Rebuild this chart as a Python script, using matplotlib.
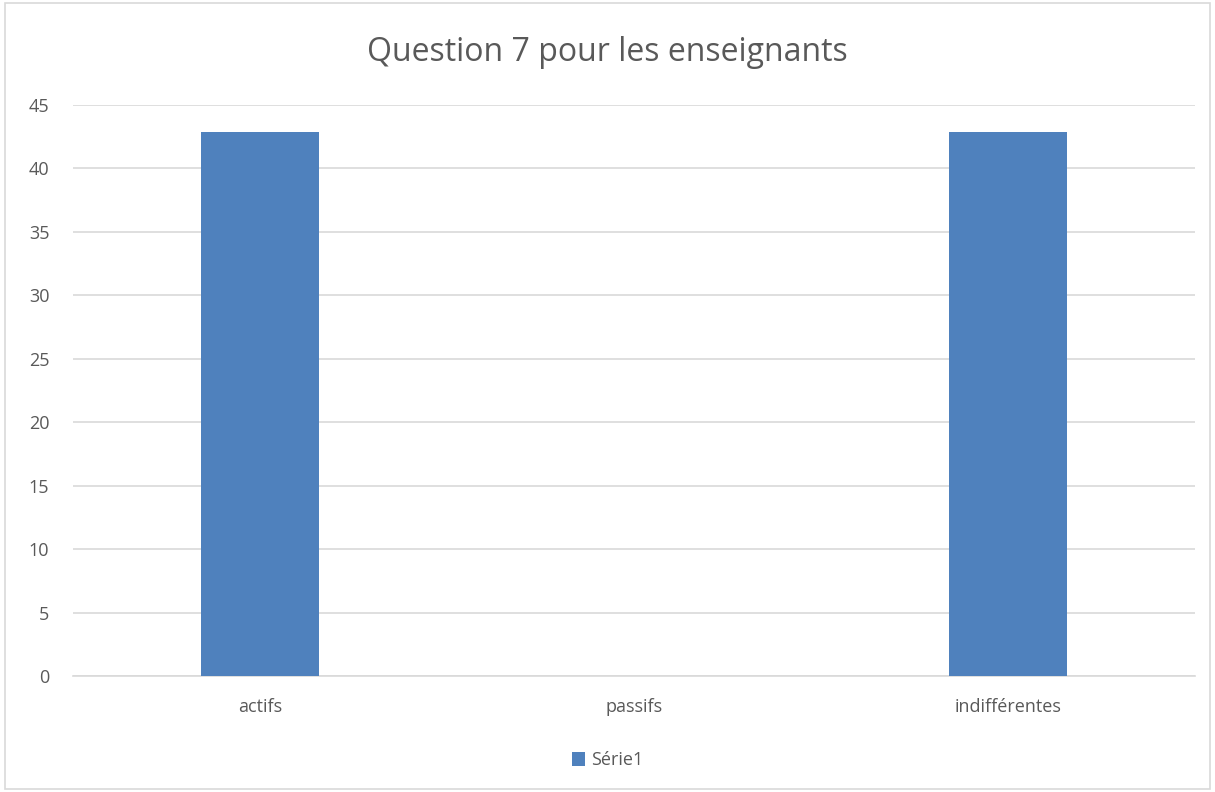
import numpy as np
import matplotlib.pyplot as plt
from matplotlib.patches import Rectangle

categories = ["actifs", "passifs", "indifférentes"]
values = [42.86, 0, 42.86]
series_name = "Série1"
title = "Question 7 pour les enseignants"

plt.rcParams["font.family"] = ["Open Sans", "DejaVu Sans"]
text_color = "#595959"
bar_color = "#4f81bd"

fig = plt.figure(figsize=(12.15, 7.92), dpi=100)
ax = fig.add_axes([0.060, 0.1465, 0.9235, 0.7209])

x = np.arange(len(categories))
ax.bar(x, values, width=0.315, color=bar_color, zorder=3, label=series_name)

ax.set_xlim(-0.5, len(categories) - 0.5)
ax.set_ylim(0, 45)
ax.set_yticks(np.arange(0, 46, 5))
ax.set_xticks(x)
ax.set_xticklabels(categories)
ax.yaxis.grid(True, color="#d9d9d9", linewidth=1.2, zorder=0)
ax.set_axisbelow(True)
for s in ["top", "left", "right"]:
    ax.spines[s].set_visible(False)
ax.spines["bottom"].set_color("#d9d9d9")
ax.spines["bottom"].set_linewidth(1.2)
ax.tick_params(length=0, labelsize=13, colors=text_color)
ax.tick_params(axis="x", pad=16)
ax.tick_params(axis="y", pad=17)

fig.text(0.5, 0.934, title, ha="center", va="center", fontsize=23, color=text_color)

fig.legend(loc="center", bbox_to_anchor=(0.5, 0.04), frameon=False,
           fontsize=13, labelcolor=text_color, handlelength=0.75,
           handleheight=0.75, handletextpad=0.3)

# chart border
fig.patches.append(Rectangle((0.004, 0.004), 0.992, 0.992, transform=fig.transFigure,
                             fill=False, edgecolor="#d9d9d9", linewidth=1.2))

fig.savefig("out.png", dpi=100)
